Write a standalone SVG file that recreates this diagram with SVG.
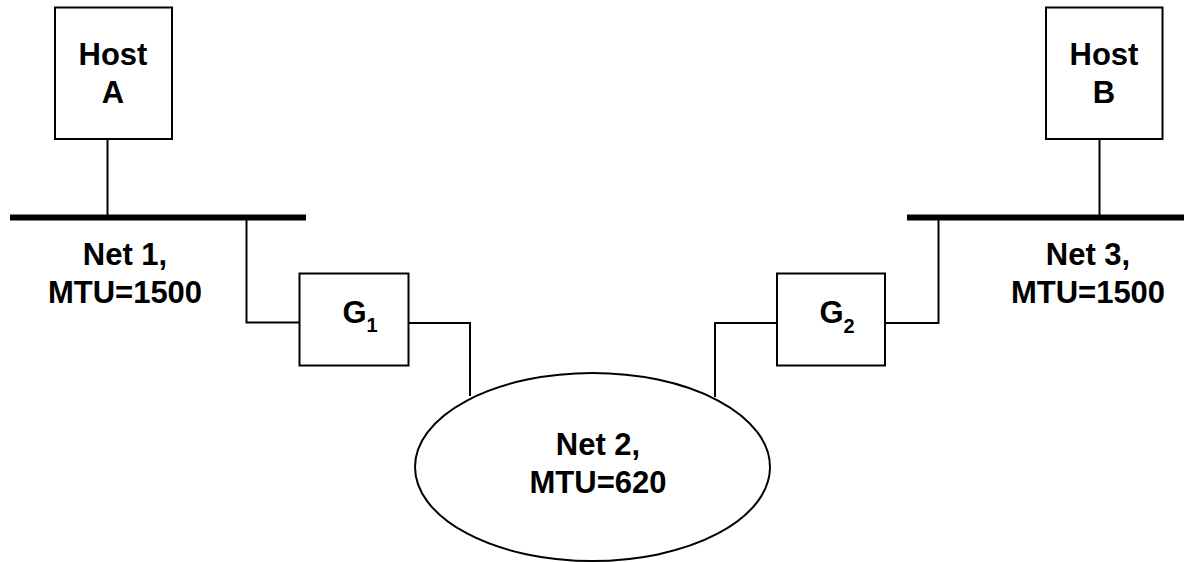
<svg xmlns="http://www.w3.org/2000/svg" width="1185" height="562" viewBox="0 0 1185 562">
  <style>
    .box { fill: #fff; stroke: #000; stroke-width: 2; }
    .wire { fill: none; stroke: #000; stroke-width: 2; }
    .bus { fill: none; stroke: #000; stroke-width: 6; }
    .lbl { font-family: "Liberation Sans", Arial, sans-serif; font-weight: bold; font-size: 31px; fill: #000; text-anchor: middle; }
    .sub { font-size: 20px; }
  </style>
  <rect width="1185" height="562" fill="#fff"/>

  <!-- connectors: host drops, buses, gateway links -->
  <g id="connectors">
    <line class="wire" x1="107.5" y1="139" x2="107.5" y2="217"/>
    <line class="bus" x1="10" y1="217.5" x2="306" y2="217.5"/>
    <polyline class="wire" points="246.5,217 246.5,322.5 300,322.5"/>
    <polyline class="wire" points="409,323 470,323 470,396"/>
    <polyline class="wire" points="777,323 715,323 715,397"/>
    <polyline class="wire" points="885,323 938.5,323 938.5,217"/>
    <line class="bus" x1="907" y1="217.5" x2="1184" y2="217.5"/>
    <line class="wire" x1="1099.5" y1="139" x2="1099.5" y2="217"/>
  </g>

  <g id="hostA">
    <rect class="box" x="55" y="7.5" width="117" height="131.5"/>
    <text class="lbl" x="113" y="65">Host</text>
    <text class="lbl" x="113" y="103">A</text>
  </g>

  <g id="net1">
    <text class="lbl" x="125" y="265">Net 1,</text>
    <text class="lbl" x="125" y="303">MTU=1500</text>
  </g>

  <g id="g1">
    <rect class="box" x="299.5" y="273.5" width="109" height="92"/>
    <text class="lbl" x="360" y="323">G<tspan class="sub" dy="9">1</tspan></text>
  </g>

  <g id="net2">
    <ellipse class="box" cx="592.5" cy="467" rx="177.5" ry="94"/>
    <text class="lbl" x="598" y="455">Net 2,</text>
    <text class="lbl" x="598" y="493">MTU=620</text>
  </g>

  <g id="g2">
    <rect class="box" x="777" y="273.5" width="108" height="92"/>
    <text class="lbl" x="837" y="323">G<tspan class="sub" dy="10">2</tspan></text>
  </g>

  <g id="hostB">
    <rect class="box" x="1046" y="7.5" width="116.5" height="131.5"/>
    <text class="lbl" x="1104" y="65">Host</text>
    <text class="lbl" x="1104" y="103">B</text>
  </g>

  <g id="net3">
    <text class="lbl" x="1088" y="265">Net 3,</text>
    <text class="lbl" x="1088" y="303">MTU=1500</text>
  </g>
</svg>
